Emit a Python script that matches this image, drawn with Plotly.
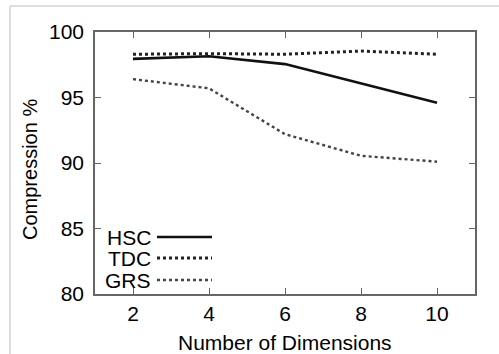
import plotly.graph_objects as go

dims = [2, 4, 6, 8, 10]
hsc = [97.95, 98.15, 97.55, 96.1, 94.6]
tdc = [98.3, 98.35, 98.3, 98.55, 98.3]
grs = [96.4, 95.7, 92.2, 90.55, 90.1]
y_ticks = [80, 85, 90, 95, 100]
x_ticks = [2, 4, 6, 8, 10]

FONT = "Liberation Sans, Arial, sans-serif"
L, R, T, B = 95, 24, 32, 60
W, H = 499, 354
pw, ph = W - L - R, H - T - B

def px(x):
    return (x - L) / pw

def py(y):
    return (H - B - y) / ph

series = [
    ("HSC", hsc, dict(color="#111111", width=2.6, dash="solid")),
    ("TDC", tdc, dict(color="#222222", width=3, dash="dot")),
    ("GRS", grs, dict(color="#444444", width=2.4, dash="dot")),
]

fig = go.Figure()
for name, vals, line in series:
    fig.add_trace(go.Scatter(x=dims, y=vals, mode="lines", name=name, line=line, showlegend=False))

shapes = []
annotations = []
leg_y = [237, 258, 280]
for (name, vals, line), yy in zip(series, leg_y):
    annotations.append(dict(x=px(153), y=py(yy), xref="paper", yref="paper", text=name,
                            showarrow=False, xanchor="right", yanchor="middle",
                            font=dict(family=FONT, size=21, color="#000")))
    shapes.append(dict(type="line", xref="paper", yref="paper", x0=px(157), x1=px(212),
                       y0=py(yy), y1=py(yy), line=line))

annotations.append(dict(x=px(30), y=py(170), xref="paper", yref="paper", text="Compression %",
                        showarrow=False, textangle=-90, xanchor="center", yanchor="middle",
                        font=dict(family=FONT, size=20, color="#000")))
annotations.append(dict(x=px(285), y=py(342), xref="paper", yref="paper", text="Number of Dimensions",
                        showarrow=False, xanchor="center", yanchor="middle",
                        font=dict(family=FONT, size=21, color="#000")))

# light outer frame lines
shapes.append(dict(type="line", xref="paper", yref="paper", x0=px(10), x1=px(499), y0=py(6), y1=py(6),
                   line=dict(color="#dddddd", width=2)))
shapes.append(dict(type="line", xref="paper", yref="paper", x0=px(10), x1=px(10), y0=py(6), y1=py(354),
                   line=dict(color="#dddddd", width=2)))

fig.update_layout(
    width=W, height=H,
    margin=dict(l=L, r=R, t=T, b=B),
    paper_bgcolor="white", plot_bgcolor="white",
    font=dict(family=FONT, size=20, color="#000"),
    shapes=shapes, annotations=annotations,
)
fig.update_xaxes(range=[1, 11], tickvals=x_ticks, ticks="inside", ticklen=6, tickcolor="#666",
                 showline=True, linecolor="#666", linewidth=1.5, mirror="ticks", showgrid=False,
                 zeroline=False, tickfont=dict(size=21))
fig.update_yaxes(range=[80, 100], tickvals=y_ticks, ticks="inside", ticklen=6, tickcolor="#666",
                 showline=True, linecolor="#666", linewidth=1.5, mirror="ticks", showgrid=False,
                 zeroline=False, tickfont=dict(size=21), ticklabelstandoff=5)

fig.write_html("out.html")
